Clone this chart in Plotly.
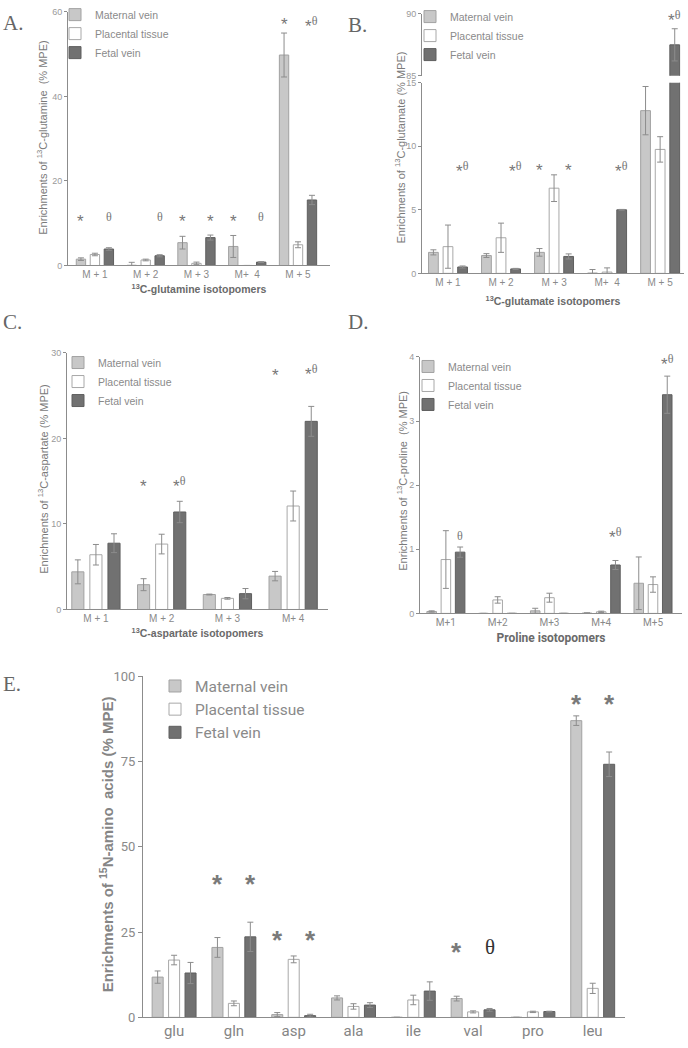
import plotly.graph_objects as go

W, H = 688, 1048

groups = ["Maternal vein", "Placental tissue", "Fetal vein"]

# panel A: 13C-glutamine
a_cats = ["M + 1", "M + 2", "M + 3", "M+\u00a0 4", "M + 5"]
a_mat = [1.5, 0.05, 5.4, 4.5, 49.8]
a_mat_err = [0.3, 0.7, 1.5, 2.6, 5.2]
a_pla = [2.6, 1.3, 0.5, 0.0, 4.9]
a_pla_err = [0.3, 0.2, 0.3, 0.0, 0.7]
a_fet = [3.9, 2.3, 6.6, 0.8, 15.5]
a_fet_err = [0.3, 0.25, 0.6, 0.1, 1.1]
a_marks = [(0, 0, "*", 10.5), (0, 2, "t", 11.5), (1, 2, "t", 11.5), (2, 0, "*", 10.5),
           (2, 2, "*", 10.5), (3, 0, "*", 10.5), (3, 2, "t", 11.5), (4, 0, "*", 57),
           (4, 2, "*t", 57)]

# panel B: 13C-glutamate
b_cats = ["M + 1", "M + 2", "M + 3", "M+\u00a0 4", "M + 5"]
b_mat = [1.65, 1.4, 1.65, 0.02, 12.8]
b_mat_err = [0.2, 0.15, 0.3, 0.28, 1.9]
b_pla = [2.1, 2.8, 6.7, 0.1, 9.75]
b_pla_err = [1.7, 1.15, 1.05, 0.33, 1.0]
b_fet = [0.5, 0.35, 1.33, 5.0, 87.5]
b_fet_err = [0.08, 0.04, 0.2, 0.03, 1.3]
b_marks = [(0, 2, "*t", 8.1), (1, 2, "*t", 8.1), (2, 0, "*", 8.1), (2, 2, "*", 8.1),
           (3, 2, "*t", 8.1)]
b_marks_top = [(4, 2, "*t", 89.6)]

# panel C: 13C-aspartate
c_cats = ["M + 1", "M + 2", "M + 3", "M+ 4"]
c_mat = [4.4, 2.9, 1.75, 3.9]
c_mat_err = [1.4, 0.7, 0.05, 0.55]
c_pla = [6.4, 7.65, 1.3, 12.1]
c_pla_err = [1.2, 1.15, 0.1, 1.75]
c_fet = [7.75, 11.4, 1.85, 22.0]
c_fet_err = [1.1, 1.25, 0.6, 1.75]
c_marks = [(1, 0, "*", 14.4), (1, 2, "*t", 14.5), (3, 0, "*", 27.4), (3, 2, "*t", 27.6)]

# panel D: 13C-proline
d_cats = ["M+1", "M+2", "M+3", "M+4", "M+5"]
d_mat = [0.03, 0.0, 0.04, 0.005, 0.47]
d_mat_err = [0.01, 0.0, 0.04, 0.005, 0.41]
d_pla = [0.84, 0.21, 0.245, 0.025, 0.45]
d_pla_err = [0.45, 0.05, 0.07, 0.01, 0.12]
d_fet = [0.955, 0.0, 0.0, 0.755, 3.41]
d_fet_err = [0.08, 0.0, 0.0, 0.07, 0.29]
d_marks = [(0, 2, "t", 1.21), (3, 2, "*t", 1.21), (4, 2, "*t", 3.9)]

# panel E: 15N-amino acids
e_cats = ["glu", "gln", "asp", "ala", "ile", "val", "pro", "leu"]
e_mat = [11.8, 20.5, 0.8, 5.7, 0.0, 5.5, 0.0, 87.0]
e_mat_err = [1.8, 2.9, 0.6, 0.6, 0.0, 0.7, 0.0, 1.4]
e_pla = [16.8, 4.1, 17.0, 3.2, 5.1, 1.6, 1.6, 8.5]
e_pla_err = [1.4, 0.7, 1.0, 0.8, 1.4, 0.3, 0.2, 1.5]
e_fet = [13.0, 23.6, 0.5, 3.6, 7.7, 2.2, 1.7, 74.2]
e_fet_err = [3.1, 4.3, 0.4, 0.7, 2.7, 0.4, 0.1, 3.6]
e_marks = [(1, 0, "*", 39), (1, 2, "*", 39), (2, 0, "*", 22.6), (2, 2, "*", 22.6),
           (5, 0, "*", 19.2), (5, 2, "t", 20.7), (7, 0, "*", 91.8), (7, 2, "*", 91.8)]

fills = ["#c8c8c8", "#ffffff", "#717171"]
edges = ["#a2a2a2", "#a8a8a8", "#5f5f5f"]
SANS = "Liberation Sans, Arial, sans-serif"
NARROW = "Liberation Sans Narrow, Arial Narrow, Roboto, sans-serif"
SERIF = "Liberation Serif, DejaVu Serif, serif"
BARGAP = 0.175
slot = (1 - BARGAP) / 3


def px(v, total):
    return v / total


def add_bars(fig, cats, series, errors, xa, ya, legend, show=True):
    for name, vals, errs, fill, edge in zip(groups, series, errors, fills, edges):
        fig.add_trace(go.Bar(
            x=cats, y=vals, name=name, xaxis=xa, yaxis=ya,
            legend=legend, showlegend=show,
            marker=dict(color=fill, line=dict(color=edge, width=1)),
            error_y=dict(type="data", array=errs, color="#8c8c8c", thickness=1, width=3),
        ))


def mark_notes(marks, xa, ya, star, theta, color, theta_color=None, bold=False):
    out = []
    tc = theta_color or color
    for ci, k, kind, yv in marks:
        th = f"<span style='font-family:{SERIF};font-size:{theta}px;color:{tc}'>θ</span>"
        star_txt = "<b>*</b>" if bold else "*"
        if kind == "*":
            txt = star_txt
        elif kind == "t":
            txt = th
        else:
            txt = star_txt + "<sup>" + th + "</sup>"
        out.append(dict(x=ci + (k - 1) * slot, y=yv, xref=xa, yref=ya, text=txt,
                        showarrow=False, xanchor="center", yanchor="middle",
                        font=dict(family=SANS, size=star, color=color)))
    return out


fig = go.Figure()
add_bars(fig, a_cats, [a_mat, a_pla, a_fet], [a_mat_err, a_pla_err, a_fet_err], "x", "y", "legend")
add_bars(fig, b_cats, [b_mat, b_pla, b_fet], [b_mat_err, b_pla_err, b_fet_err], "x2", "y2", "legend2")
add_bars(fig, b_cats, [b_mat, b_pla, b_fet], [b_mat_err, b_pla_err, b_fet_err], "x2", "y6", "legend2", False)
add_bars(fig, c_cats, [c_mat, c_pla, c_fet], [c_mat_err, c_pla_err, c_fet_err], "x3", "y3", "legend3")
add_bars(fig, d_cats, [d_mat, d_pla, d_fet], [d_mat_err, d_pla_err, d_fet_err], "x4", "y4", "legend4")
add_bars(fig, e_cats, [e_mat, e_pla, e_fet], [e_mat_err, e_pla_err, e_fet_err], "x5", "y5", "legend5")

axis = dict(showline=True, linecolor="#8c8c8c", linewidth=1, ticks="outside", ticklen=3,
            tickcolor="#8c8c8c", showgrid=False, zeroline=False,
            tickfont=dict(family=SANS, size=9, color="#9a9a9a"))
xtick = dict(family=SANS, size=10, color="#8a8a8a")
xtitle = dict(family=SANS, size=10.5, color="#6a6a6a")


def xax(left, right, anchor, cats, rng, title, standoff=6, tickfont=xtick, tfont=xtitle):
    return dict(axis, domain=[px(left, W), px(right, W)], anchor=anchor, type="category",
                categoryorder="array", categoryarray=cats, range=rng, tickfont=tickfont,
                title=dict(text=title, font=tfont, standoff=standoff), ticks="")


def yax(top, bottom, anchor, rng, **kw):
    return dict(axis, domain=[1 - px(bottom, H), 1 - px(top, H)], anchor=anchor, range=rng, **kw)


def legend_at(x, y, size, color="#8a8a8a", family=SANS):
    return dict(x=px(x, W), y=1 - px(y, H), xanchor="left", yanchor="top",
                bgcolor="rgba(0,0,0,0)", font=dict(family=family, size=size, color=color),
                tracegroupgap=0, itemclick=False)


def ytitle(x, yc, text, size=11, color="#7a7a7a", family=SANS):
    return dict(x=px(x, W), y=1 - px(yc, H), xref="paper", yref="paper", text=text,
                textangle=-90, showarrow=False, xanchor="center", yanchor="middle",
                font=dict(family=family, size=size, color=color))


def letter(x, yc, text):
    return dict(x=px(x, W), y=1 - px(yc, H), xref="paper", yref="paper", text=text,
                showarrow=False, xanchor="left", yanchor="middle",
                font=dict(family=SERIF, size=21, color="#666666"))


notes = []
notes += mark_notes(a_marks, "x", "y", 17, 12, "#777777")
notes += mark_notes(b_marks, "x2", "y2", 17, 12, "#777777")
notes += mark_notes(b_marks_top, "x2", "y6", 17, 12, "#777777")
notes += mark_notes(c_marks, "x3", "y3", 17, 12, "#777777")
notes += mark_notes(d_marks, "x4", "y4", 17, 12, "#777777")
notes += mark_notes(e_marks, "x5", "y5", 26, 21, "#7a7a7a", theta_color="#333333", bold=True)
notes += [
    ytitle(42, 133, "Enrichments of <sup>13</sup>C-glutamine  (% MPE)"),
    ytitle(400, 143, "Enrichments of <sup>13</sup>C-glutamate (% MPE)"),
    ytitle(43, 480, "Enrichments of <sup>13</sup>C-aspartate (% MPE)"),
    ytitle(402, 482, "Enrichments of <sup>13</sup>C-proline  (% MPE)"),
    ytitle(106, 852, "<b>Enrichments of <sup>15</sup>N-amino  acids (% MPE)</b>", size=15,
           color="#858585"),
    letter(1, 16, "A."), letter(346, 18, "B."), letter(1, 320, "C."),
    letter(346, 321, "D."), letter(1, 689, "E."),
]

fig.update_layout(
    width=W, height=H, margin=dict(l=0, r=0, t=0, b=0),
    paper_bgcolor="white", plot_bgcolor="white",
    barmode="group", bargap=BARGAP, bargroupgap=0.33,
    font=dict(family=SANS, color="#777777"),
    xaxis=xax(68, 330, "y", a_cats, [-0.53, 4.63], "<b><sup>13</sup>C-glutamine isotopomers</b>"),
    xaxis2=xax(422, 684, "y2", b_cats, [-0.49, 4.45], "<b><sup>13</sup>C-glutamate isotopomers</b>", 10),
    xaxis3=xax(67, 328, "y3", c_cats, [-0.44, 3.53], "<b><sup>13</sup>C-aspartate isotopomers</b>"),
    xaxis4=xax(420, 682, "y4", d_cats, [-0.5, 4.56], "<b>Proline isotopomers</b>",
               tickfont=dict(family=NARROW, size=10, color="#8a8a8a"),
               tfont=dict(family=NARROW, size=12, color="#6a6a6a")),
    xaxis5=xax(143, 625, "y5", e_cats, [-0.52, 7.54], "", 0,
               tickfont=dict(family=NARROW, size=15, color="#858585")),
    yaxis=yax(5, 263, "x", [0, 60], dtick=20),
    yaxis2=yax(77, 271, "x2", [0, 15], dtick=5),
    yaxis6=yax(7, 70, "x2", [85, 90], tickvals=[85, 90]),
    yaxis3=yax(352, 613, "x3", [0, 30], dtick=10),
    yaxis4=yax(356, 617, "x4", [0, 4], dtick=1),
    yaxis5=yax(681, 1028, "x5", [0, 100], dtick=25,
               tickfont=dict(family=NARROW, size=13, color="#8a8a8a"), ticklen=4),
    legend=legend_at(55, -7, 10.5),
    legend2=legend_at(410, -5, 10.5),
    legend3=legend_at(58, 347, 10.5),
    legend4=legend_at(408, 351, 10.5),
    legend5=legend_at(155, 674, 15.5, family=NARROW),
    annotations=notes,
)

# the page's default body margin would shift the fixed-size figure off the window
fig.write_html("out.html", config={"displayModeBar": False},
               post_script="document.body.style.margin='0';")
